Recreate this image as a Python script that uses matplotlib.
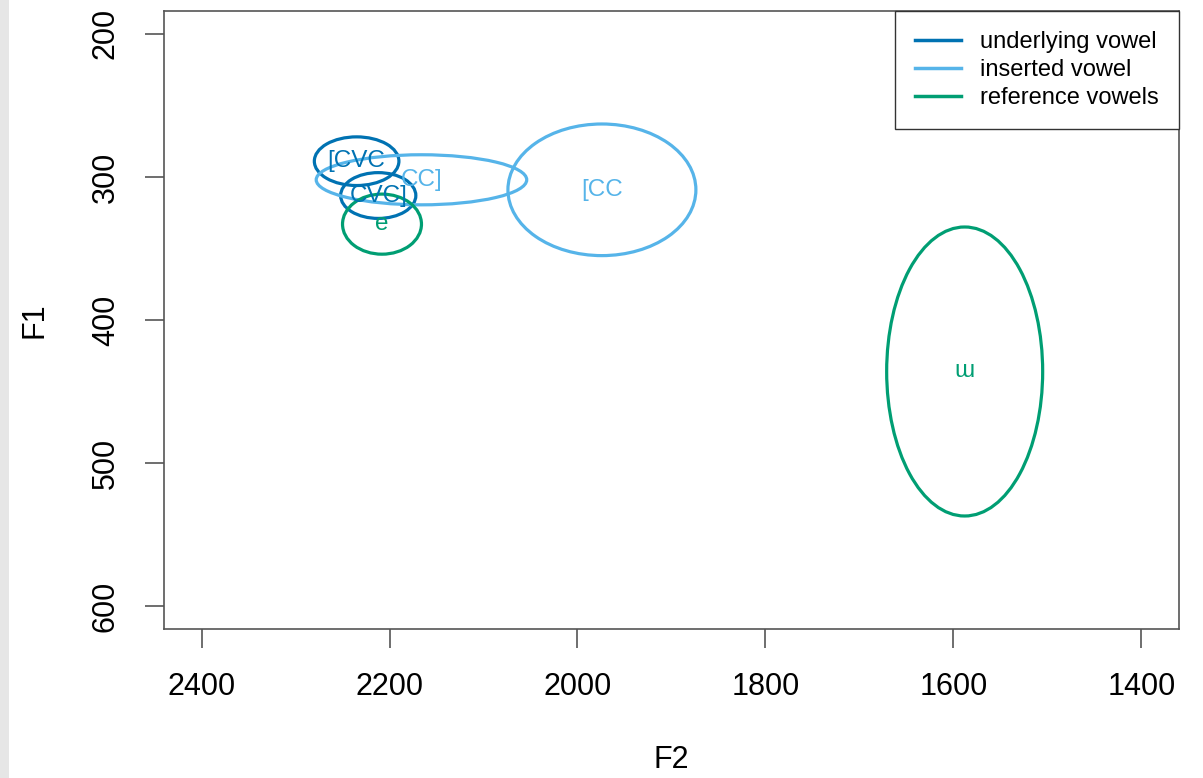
import matplotlib.pyplot as plt
from matplotlib.patches import Ellipse, Rectangle
from matplotlib.lines import Line2D

plt.rcParams['font.family'] = ['Liberation Sans', 'DejaVu Sans']

# ellipse data (F2 / F1 centres and semi-axes)
labels = ["[CVC", "CVC]", "CC]", "[CC", "e", "\u026f"]
groups = ["underlying", "underlying", "inserted", "inserted", "reference", "reference"]
f2_mean = [2235, 2212, 2166, 1974, 2208, 1588]
f1_mean = [289, 313, 302, 309, 333, 436]
f2_semi = [45, 40, 112, 100, 42, 83]
f1_semi = [17, 16, 17.5, 46, 21, 101]

colors = {"underlying": "#0072B2", "inserted": "#56B4E9", "reference": "#009E73"}
legend_names = ["underlying vowel", "inserted vowel", "reference vowels"]

x_ticks = [2400, 2200, 2000, 1800, 1600, 1400]
y_ticks = [200, 300, 400, 500, 600]

fig = plt.figure(figsize=(12.03, 7.78), dpi=100)
fig.patches.append(Rectangle((0, 0), 9 / 1203, 1, transform=fig.transFigure,
                             facecolor="#e6e6e6", edgecolor="none", zorder=-1))
ax = fig.add_axes([0.1363, 0.1915, 0.8437, 0.7944])

for lab, g, x, y, sx, sy in zip(labels, groups, f2_mean, f1_mean, f2_semi, f1_semi):
    c = colors[g]
    ax.add_patch(Ellipse((x, y), 2 * sx, 2 * sy, fill=False, edgecolor=c, linewidth=2.3))
    ax.text(x, y, lab, color=c, fontsize=17.5, ha="center", va="center")

ax.set_xlim(2440, 1360)
ax.set_ylim(616, 184)
ax.set_xticks(x_ticks)
ax.set_yticks(y_ticks)
ax.set_yticklabels([str(v) for v in y_ticks], rotation=90, va="center")

for s in ax.spines.values():
    s.set_color("#555555")
    s.set_linewidth(1.2)
ax.tick_params(direction="out", length=14, width=1.2, color="#555555",
               labelsize=22, pad=17)

ax.set_xlabel("F2", fontsize=22, labelpad=31)
ax.set_ylabel("F1", fontsize=22, labelpad=30)

handles = [Line2D([], [], color=colors[g], linewidth=2.5)
           for g in ["underlying", "inserted", "reference"]]
leg = ax.legend(handles, legend_names, loc="upper right", borderaxespad=0,
                fontsize=17, fancybox=False, framealpha=1, handlelength=1.95,
                handletextpad=0.8, labelspacing=0.25, borderpad=0.85)
leg.get_frame().set_edgecolor("#333333")
leg.get_frame().set_linewidth(1.0)

fig.savefig("out.png", dpi=100)
